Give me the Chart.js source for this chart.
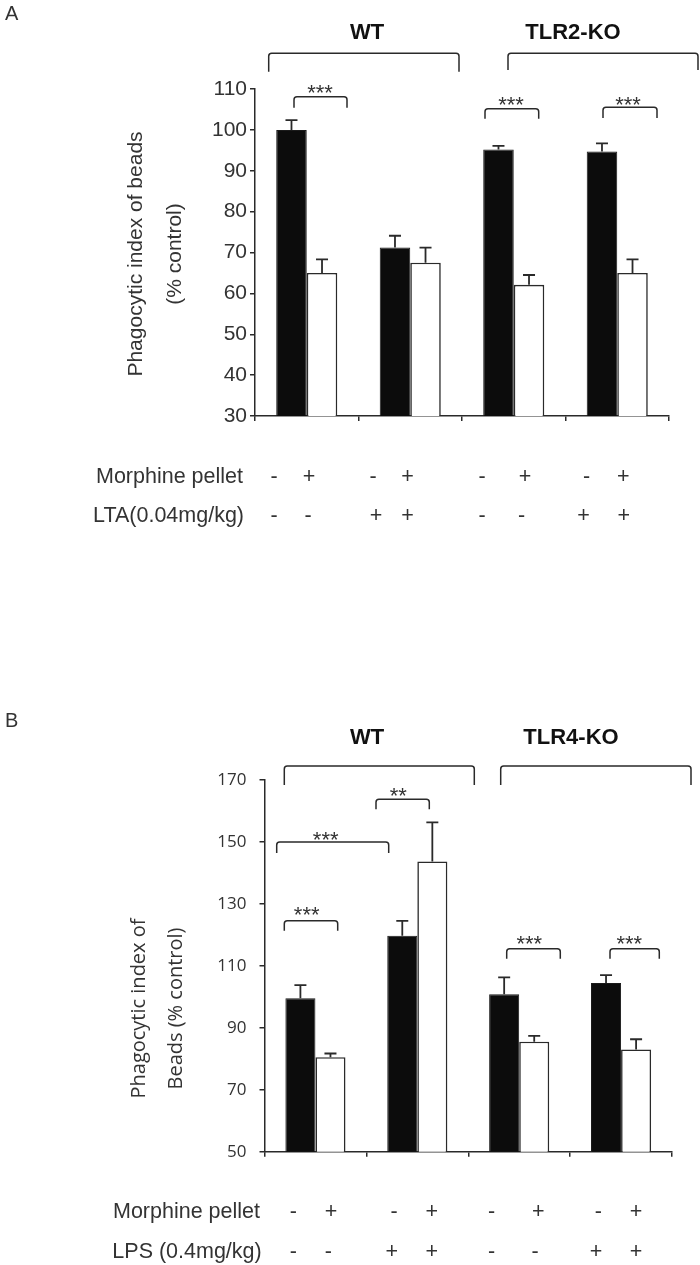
<!DOCTYPE html>
<html><head><meta charset="utf-8">
<script src="https://cdn.jsdelivr.net/npm/chart.js@4.4.1/dist/chart.umd.min.js"></script>
<style>
html,body{margin:0;padding:0;background:#fff;width:700px;height:1265px;overflow:hidden}
canvas{position:absolute;left:0}
#cA{top:0}
#cB{top:620px}
</style></head><body>
<canvas id="cA" width="700" height="620"></canvas>
<canvas id="cB" width="700" height="645"></canvas>
<script>
// ---------- data ----------
const categories = ['WT', 'WT + agonist', 'KO', 'KO + agonist'];
const aPlacebo = [100, 71.2, 95.2, 94.7];
const aPlaceboErr = [2.4, 2.9, 0.9, 2.0];
const aMorphine = [65.0, 67.5, 62.1, 65.0];
const aMorphineErr = [3.3, 3.7, 2.4, 3.3];
const bPlacebo = [99.5, 119.7, 100.8, 104.5];
const bPlaceboErr = [4.3, 4.8, 5.5, 2.5];
const bMorphine = [80.5, 143.7, 85.5, 83.0];
const bMorphineErr = [1.2, 12.6, 1.9, 3.3];
const aTicks = [30, 40, 50, 60, 70, 80, 90, 100, 110];
const bTicks = [50, 70, 90, 110, 130, 150, 170];
const morphineSigns = ['-', '+', '-', '+', '-', '+', '-', '+'];
const ltaSigns = ['-', '-', '+', '+', '-', '-', '+', '+'];
const lpsSigns = ['-', '-', '+', '+', '-', '-', '+', '+'];

// ---------- styling / layout ----------
const SANS = "'Liberation Sans', Arial, sans-serif";
const OPEN = "'Open Sans', 'Noto Sans', sans-serif";
const INK = '#2a2a2a';

const errorBars = {
  id: 'errorBars',
  afterDatasetsDraw(chart) {
    const ctx = chart.ctx, ys = chart.scales.y;
    chart.data.datasets.forEach((ds, di) => {
      const meta = chart.getDatasetMeta(di);
      meta.data.forEach((bar, i) => {
        const top = ys.getPixelForValue(ds.data[i] + ds.errors[i]);
        ctx.save();
        ctx.strokeStyle = INK; ctx.lineWidth = 1.8;
        ctx.beginPath();
        ctx.moveTo(bar.x, bar.y); ctx.lineTo(bar.x, top);
        ctx.moveTo(bar.x - 6, top); ctx.lineTo(bar.x + 6, top);
        ctx.stroke();
        ctx.restore();
      });
    });
  }
};

function bracket(ctx, x1, x2, top, bot) {
  const r = 3;
  ctx.beginPath();
  ctx.moveTo(x1, bot); ctx.lineTo(x1, top + r);
  ctx.quadraticCurveTo(x1, top, x1 + r, top);
  ctx.lineTo(x2 - r, top);
  ctx.quadraticCurveTo(x2, top, x2, top + r);
  ctx.lineTo(x2, bot);
  ctx.stroke();
}

const annot = {
  id: 'annot',
  afterDraw(chart, args, o) {
    const ctx = chart.ctx, dy = o.dy;
    ctx.save();
    ctx.strokeStyle = INK; ctx.lineWidth = 1.5;
    o.brackets.forEach(b => bracket(ctx, b[0], b[1], b[2] - dy, b[3] - dy));
    ctx.fillStyle = '#333';
    // stars
    ctx.font = '22px ' + SANS; ctx.textAlign = 'center'; ctx.textBaseline = 'alphabetic';
    o.stars.forEach(s => ctx.fillText(s[0], s[1], s[2] - dy + 12.5));
    // bold group labels
    ctx.fillStyle = '#111'; ctx.font = 'bold 22px ' + SANS; ctx.textBaseline = 'middle';
    o.groups.forEach(g => ctx.fillText(g[0], g[1], g[2] - dy));
    // panel letter
    ctx.fillStyle = '#333'; ctx.font = '20px ' + SANS; ctx.textAlign = 'left';
    ctx.fillText(o.letter[0], o.letter[1], o.letter[2] - dy);
    // row labels
    ctx.font = '21.5px ' + SANS; ctx.textAlign = 'right';
    o.rows.forEach(r => ctx.fillText(r.label, r.x, r.y - dy));
    ctx.textAlign = 'center';
    o.rows.forEach(r => r.signs.forEach((s, i) => ctx.fillText(s, r.xs[i], r.y - dy)));
    // y title
    ctx.font = o.titleFont;
    o.title.forEach(t => {
      ctx.save(); ctx.translate(t[1], t[2] - dy); ctx.rotate(-Math.PI / 2);
      ctx.textAlign = 'center'; ctx.textBaseline = 'middle';
      ctx.fillText(t[0], 0, 0); ctx.restore();
    });
    ctx.restore();
  }
};

function makeChart(id, cfg) {
  return new Chart(document.getElementById(id), {
    type: 'bar',
    data: {
      labels: categories,
      datasets: [
        { data: cfg.black, errors: cfg.blackErr, backgroundColor: '#0c0c0c', borderColor: '#1a1a1a', borderWidth: 1, categoryPercentage: 0.59, barPercentage: 1 },
        { data: cfg.white, errors: cfg.whiteErr, backgroundColor: '#ffffff', borderColor: INK, borderWidth: 1.6, categoryPercentage: 0.59, barPercentage: 1 }
      ]
    },
    options: {
      responsive: false, animation: false, devicePixelRatio: 1,
      layout: { padding: cfg.padding },
      plugins: { legend: { display: false }, tooltip: { enabled: false }, annot: cfg.annot },
      scales: {
        x: {
          afterFit: s => { s.height = 6; },
          ticks: { display: false },
          grid: { drawOnChartArea: false, offset: true, tickLength: 5, color: INK, lineWidth: 1.5 },
          border: { color: INK, width: 1.5 }
        },
        y: {
          min: cfg.ticks[0], max: cfg.ticks[cfg.ticks.length - 1],
          afterFit: s => { s.width = 60; },
          afterBuildTicks: s => { s.ticks = cfg.ticks.map(v => ({ value: v })); },
          ticks: { font: cfg.tickFont, color: '#333', padding: cfg.tickPad },
          grid: { drawOnChartArea: false, tickLength: 5, color: INK, lineWidth: 1.5 },
          border: { color: INK, width: 1.5 }
        }
      }
    },
    plugins: [errorBars, annot]
  });
}

makeChart('cA', {
  black: aPlacebo, blackErr: aPlaceboErr, white: aMorphine, whiteErr: aMorphineErr,
  ticks: aTicks, tickFont: { family: SANS, size: 21 }, tickPad: 3,
  padding: { left: 195, right: 31, top: 89, bottom: 620 - 416 - 6 },
  annot: {
    dy: 0,
    letter: ['A', 5, 14],
    groups: [['WT', 367, 33], ['TLR2-KO', 573, 33]],
    brackets: [[268.7, 459, 53.3, 71.7], [508, 698, 53.3, 70],
               [294, 347, 96.7, 107.7], [485, 538.7, 108.7, 118.7], [603, 657, 107.3, 118]],
    stars: [['***', 320, 87], ['***', 511, 99], ['***', 628, 99]],
    rows: [
      { label: 'Morphine pellet', x: 243, y: 477, signs: morphineSigns, xs: [274, 309, 373, 407.5, 482, 525, 586.6, 623.4] },
      { label: 'LTA(0.04mg/kg)', x: 244, y: 516, signs: ltaSigns, xs: [274, 308, 376, 407.5, 482, 521.7, 583.5, 623.8] }
    ],
    titleFont: '21px ' + SANS,
    title: [['Phagocytic index of beads', 136.5, 254], ['(% control)', 175.5, 254]]
  }
});

makeChart('cB', {
  black: bPlacebo, blackErr: bPlaceboErr, white: bMorphine, whiteErr: bMorphineErr,
  ticks: bTicks, tickFont: { family: OPEN, size: 17 }, tickPad: 13,
  padding: { left: 204.5, right: 28, top: 160, bottom: 645 - 531.7 - 6 },
  annot: {
    dy: 620,
    letter: ['B', 5, 721],
    groups: [['WT', 367, 738], ['TLR4-KO', 571, 738]],
    brackets: [[284.3, 474.3, 766, 785], [500.7, 691, 766, 785],
               [276.7, 388.7, 842, 853], [376, 429.3, 799.3, 809.3],
               [284.3, 337.7, 920.7, 930.7], [506.7, 560.3, 948.7, 958.7], [610, 659.3, 948.7, 958.7]],
    stars: [['***', 325.7, 834], ['**', 398.3, 790.7], ['***', 306.7, 909.3], ['***', 529.3, 938.3], ['***', 629.3, 938.3]],
    rows: [
      { label: 'Morphine pellet', x: 260, y: 1211.7, signs: morphineSigns, xs: [293.3, 331, 394, 431.7, 491.7, 538.3, 598.3, 636] },
      { label: 'LPS (0.4mg/kg)', x: 261.7, y: 1251.7, signs: lpsSigns, xs: [293.3, 328.3, 391.7, 431.7, 491.7, 535, 596, 636] }
    ],
    titleFont: '20px ' + OPEN,
    title: [['Phagocytic index of', 139, 1008.5], ['Beads (% control)', 176.7, 1008.5]]
  }
});
</script>
</body></html>
